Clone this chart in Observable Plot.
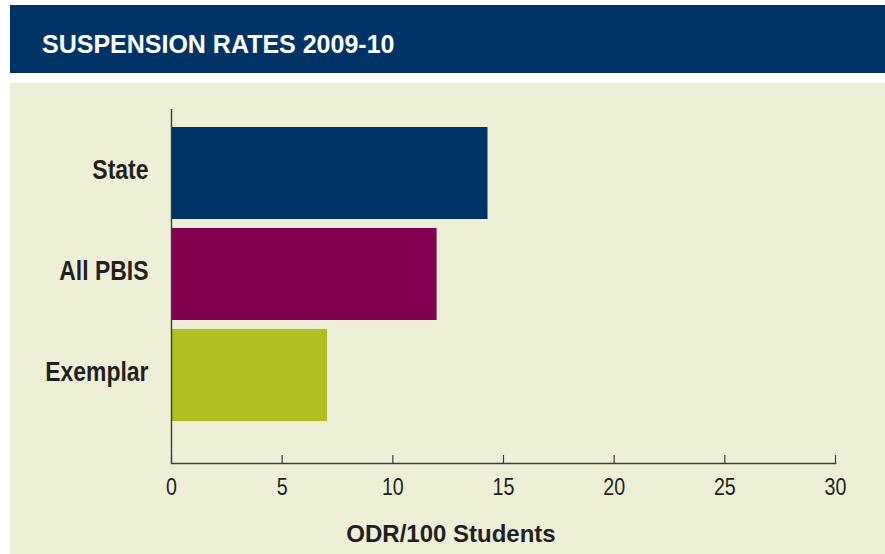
<!DOCTYPE html>
<html>
<head>
<meta charset="utf-8">
<script src="https://cdn.jsdelivr.net/npm/d3@7"></script>
<script src="https://cdn.jsdelivr.net/npm/@observablehq/plot@0.6"></script>
<style>
  html, body { margin: 0; padding: 0; background: #ffffff; }
  body { width: 885px; height: 554px; overflow: hidden; position: relative; }
  #title {
    position: absolute; left: 10px; top: 5px; width: 875px; height: 68px;
    background: #003466; color: #ffffff; box-sizing: border-box;
    padding-left: 32px; padding-top: 25px;
    font: bold 25px/28px "Liberation Sans", Arial, sans-serif;
    white-space: nowrap;
  }
  #panel {
    position: absolute; left: 10px; top: 83px; width: 875px; height: 471px;
    background: #edefd6;
  }
  #chart { position: absolute; left: 0; top: 0; }
  #xlabel {
    position: absolute; left: 0; top: 439px; width: 875px; box-sizing: border-box;
    padding-left: 7px; text-align: center; color: #231f20;
    font: bold 24px/24px "Liberation Sans", Arial, sans-serif;
  }
</style>
</head>
<body>
<div id="title">SUSPENSION RATES 2009-10</div>
<div id="panel">
  <div id="chart"></div>
  <div id="xlabel">ODR/100 Students</div>
</div>
<script>
// Data
const categories = ["State", "All PBIS", "Exemplar"];
const values = [14.3, 12.0, 7.05];
const barColors = ["#003466", "#82004f", "#b1bf22"];
const xTicks = [0, 5, 10, 15, 20, 25, 30];

const data = categories.map((name, i) => ({name, value: values[i], color: barColors[i]}));

const sans = "'Liberation Sans', Arial, sans-serif";
const axisColor = "#3d3d3d";
const textColor = "#231f20";

const chart = Plot.plot({
  width: 875,
  height: 422,
  marginTop: 26,
  marginBottom: 42,
  marginLeft: 161,
  marginRight: 50,
  style: {background: "transparent"},
  x: {domain: [0, 30]},
  y: {domain: categories, range: [38.8, 342.7], paddingInner: 0.092, paddingOuter: 0.046},
  marks: [
    Plot.barX(data, {x: "value", y: "name", fill: "color"}),
    Plot.ruleX([0], {stroke: axisColor, strokeWidth: 1.4}),
    Plot.frame({anchor: "bottom", stroke: axisColor, strokeWidth: 1.4}),
    Plot.ruleX(xTicks, {stroke: axisColor, strokeWidth: 1.2, insetTop: 346}),
    Plot.axisX({
      ticks: xTicks, tickSize: 0, tickPadding: 14, label: null,
      fontFamily: sans, fontSize: 24, fill: textColor
    }),
    Plot.axisY({
      tickSize: 0, tickPadding: 23, label: null, dy: -3,
      fontFamily: sans, fontSize: 28, fontWeight: "bold", fill: textColor
    })
  ]
});
// narrow the axis lettering (condensed look, like Arial Narrow)
d3.select(chart)
  .selectAll("[aria-label='x-axis tick label'] text, [aria-label='y-axis tick label'] text")
  .each(function () {
    const t = this.getAttribute("transform") || "";
    this.setAttribute("transform", t + " scale(0.82,1)");
  });
document.getElementById("chart").appendChild(chart);
</script>
</body>
</html>
